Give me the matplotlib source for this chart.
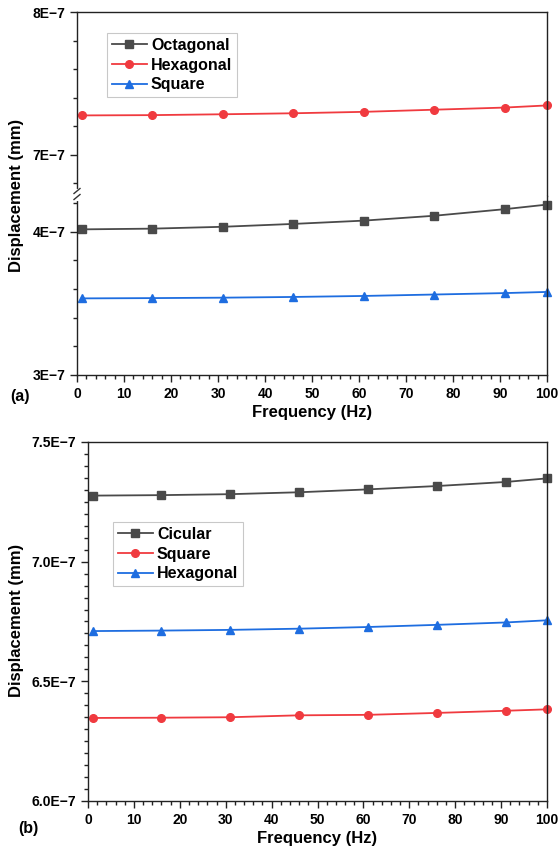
import matplotlib
matplotlib.use("Agg")
import matplotlib.pyplot as plt
from matplotlib.ticker import MultipleLocator, FuncFormatter

plt.rcParams['font.family'] = ['Liberation Sans', 'DejaVu Sans']
plt.rcParams['font.weight'] = 'bold'

# частота, Гц
freq = [1, 16, 31, 46, 61, 76, 91, 100]

# (a) переміщення, мм
octagonal_a = [4.017e-7, 4.022e-7, 4.035e-7, 4.055e-7, 4.078e-7, 4.112e-7, 4.158e-7, 4.190e-7]
hexagonal_a = [7.275e-7, 7.277e-7, 7.283e-7, 7.290e-7, 7.300e-7, 7.315e-7, 7.330e-7, 7.345e-7]
square_a = [3.535e-7, 3.537e-7, 3.540e-7, 3.545e-7, 3.552e-7, 3.562e-7, 3.572e-7, 3.580e-7]

# (b) переміщення, мм
circular_b = [7.276e-7, 7.278e-7, 7.282e-7, 7.290e-7, 7.302e-7, 7.316e-7, 7.333e-7, 7.348e-7]
square_b = [6.347e-7, 6.348e-7, 6.350e-7, 6.358e-7, 6.360e-7, 6.368e-7, 6.377e-7, 6.383e-7]
hexagonal_b = [6.710e-7, 6.712e-7, 6.715e-7, 6.720e-7, 6.727e-7, 6.736e-7, 6.746e-7, 6.755e-7]

c_black = '#4a4a4a'
c_red = '#f03a3f'
c_blue = '#1e6de0'

TICK_FS = 10
LABEL_FS = 12
LEG_FS = 11.5


def fmt_e(digits):
    def f(v, pos):
        m = v / 1e-7
        return ('{:.%df}E\u22127' % digits).format(m)
    return FuncFormatter(f)


def style(ax):
    for s in ax.spines.values():
        s.set_linewidth(1.0)
        s.set_color('#222222')
    ax.tick_params(which='both', direction='out', top=False, right=False,
                   labelsize=TICK_FS, width=1.0, color='#222222')
    ax.tick_params(which='major', length=5)
    ax.tick_params(which='minor', length=3)
    ax.set_xlim(0, 100)
    ax.xaxis.set_major_locator(MultipleLocator(10))
    ax.xaxis.set_minor_locator(MultipleLocator(2))


def draw(ax, y, color, marker, label):
    return ax.plot(freq, y, color=color, marker=marker, lw=1.3, ms=5.5,
                   label=label, clip_on=False)[0]


def add_legend(ax, handles, x0, y0):
    leg = ax.legend(handles=handles, loc='upper left', bbox_to_anchor=(x0, y0),
                    bbox_transform=fig.transFigure, fontsize=LEG_FS, frameon=True,
                    fancybox=False, handlelength=2.2, borderpad=0.3,
                    labelspacing=0.3, handletextpad=0.25, borderaxespad=0)
    leg.get_frame().set_edgecolor('#bbbbbb')
    leg.get_frame().set_linewidth(0.8)


fig = plt.figure(figsize=(5.6, 8.52), dpi=100)
W, H = 560, 852

# (a) з розривом осі
ax_up = fig.add_axes([77 / W, 1 - 196 / H, 470 / W, 184 / H])
ax_lo = fig.add_axes([77 / W, 1 - 375 / H, 470 / W, 179 / H])

h_oct = draw(ax_lo, octagonal_a, c_black, 's', 'Octagonal')
h_hex = draw(ax_up, hexagonal_a, c_red, 'o', 'Hexagonal')
h_sq = draw(ax_lo, square_a, c_blue, '^', 'Square')

for ax in (ax_up, ax_lo):
    style(ax)
    ax.yaxis.set_major_locator(MultipleLocator(1e-7))
    ax.yaxis.set_minor_locator(MultipleLocator(0.2e-7))
    ax.yaxis.set_major_formatter(fmt_e(0))

ax_up.set_ylim(6.71e-7, 8e-7)
ax_lo.set_ylim(3e-7, 4.25e-7)
ax_up.spines['bottom'].set_visible(False)
ax_lo.spines['top'].set_visible(False)
ax_up.tick_params(axis='x', which='both', bottom=False, labelbottom=False)
ax_lo.set_xlabel('Frequency (Hz)', fontsize=LABEL_FS, fontweight='bold', labelpad=3)
fig.text(17 / W, 1 - 195 / H, 'Displacement (mm)', rotation=90, ha='center', va='center',
         fontsize=LABEL_FS, fontweight='bold')
add_legend(ax_up, [h_oct, h_hex, h_sq], 107 / W, 1 - 33 / H)

# позначка розриву
xb = 77 / W
fig.lines.append(plt.Line2D([xb, xb], [1 - 199 / H, 1 - 191 / H], color='white', lw=3,
                            transform=fig.transFigure))
for yb in (191, 197):
    fig.lines.append(plt.Line2D([xb - 3 / W, xb + 3 / W], [1 - (yb + 2.5) / H, 1 - (yb - 2.5) / H],
                                color='#333333', lw=1.0, transform=fig.transFigure))
fig.text(10 / W, 1 - 396 / H, '(a)', fontsize=LEG_FS, fontweight='bold', va='center')

# (b)
ax_b = fig.add_axes([88 / W, 1 - 801 / H, 459 / W, 359 / H])
h1 = draw(ax_b, circular_b, c_black, 's', 'Cicular')
h2 = draw(ax_b, square_b, c_red, 'o', 'Square')
h3 = draw(ax_b, hexagonal_b, c_blue, '^', 'Hexagonal')
style(ax_b)
ax_b.set_ylim(6e-7, 7.5e-7)
ax_b.yaxis.set_major_locator(MultipleLocator(0.5e-7))
ax_b.yaxis.set_minor_locator(MultipleLocator(0.05e-7))
ax_b.yaxis.set_major_formatter(fmt_e(1))
ax_b.set_xlabel('Frequency (Hz)', fontsize=LABEL_FS, fontweight='bold', labelpad=3)
fig.text(17 / W, 1 - 620 / H, 'Displacement (mm)', rotation=90, ha='center', va='center',
         fontsize=LABEL_FS, fontweight='bold')
add_legend(ax_b, [h1, h2, h3], 113 / W, 1 - 522 / H)
fig.text(18 / W, 1 - 828 / H, '(b)', fontsize=LEG_FS, fontweight='bold', va='center')

fig.savefig('out.png', dpi=100)
